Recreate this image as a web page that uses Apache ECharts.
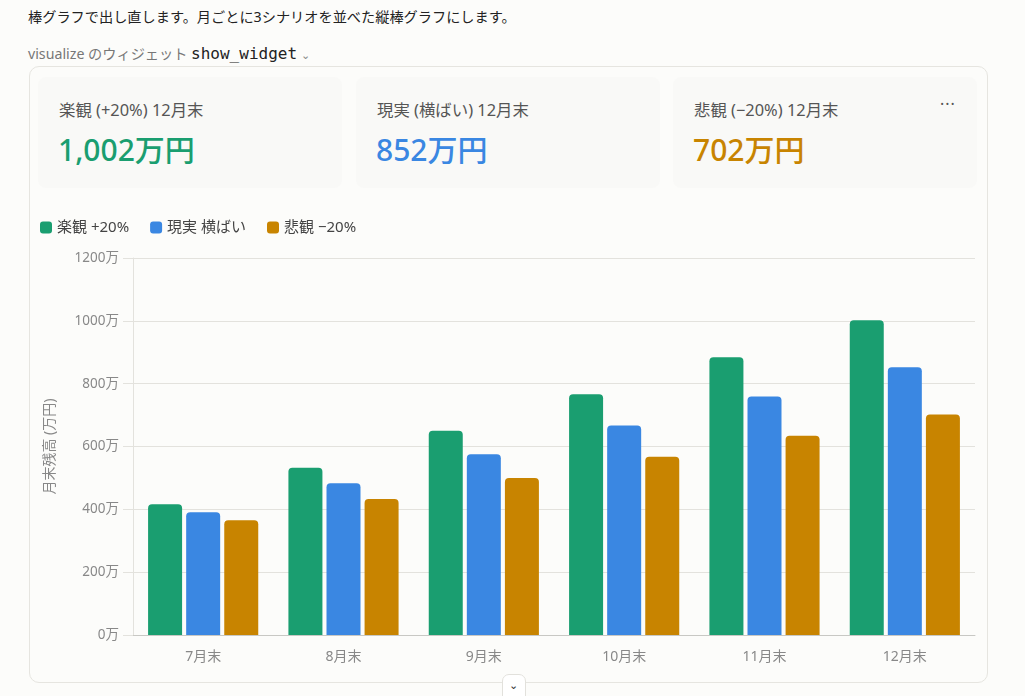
<!DOCTYPE html>
<html><head><meta charset="utf-8">
<script src="https://cdn.jsdelivr.net/npm/echarts@6/dist/echarts.min.js"></script>
<style>
html,body{margin:0;padding:0;background:#fcfcfa;width:1025px;height:696px;overflow:hidden;font-family:"Noto Sans","Noto Sans CJK JP",sans-serif;}
.t{position:absolute;white-space:nowrap;}
#head{left:28px;top:6px;font-size:14.2px;color:#222;}
#sub{left:28px;top:43px;font-size:14.2px;color:#777;}
#sub code{font-family:"DejaVu Sans Mono",monospace;color:#222;font-size:16px;}
#outer{position:absolute;left:29px;top:66px;width:957px;height:615px;border:1px solid #e6e5e0;border-radius:10px;background:#fcfcfa;}
.card{position:absolute;top:77px;width:304px;height:111px;background:#f9f9f7;border-radius:8px;}
.lab{position:absolute;left:21px;top:20px;font-size:16.4px;color:#555;}
.val{position:absolute;left:20px;top:49px;font-size:30px;font-weight:500;}
#dots{left:940px;top:93px;font-size:16px;color:#555;letter-spacing:1px;}
#chart{position:absolute;left:29px;top:195px;width:958px;height:487px;}
#btn{position:absolute;left:502px;top:674px;width:22px;height:30px;border:1px solid #e2e1dc;border-radius:7px;background:#fff;}
#btn span{position:absolute;left:6px;top:2px;font-size:11px;color:#333;}
</style></head>
<body>
<div class="t" id="head">棒グラフで出し直します。月ごとに3シナリオを並べた縦棒グラフにします。</div>
<div class="t" id="sub">visualize のウィジェット <code>show_widget</code> <span style="font-size:11px;color:#888">⌄</span></div>
<div id="outer"></div>
<div class="card" style="left:38px"><div class="t lab" id="l0"></div><div class="t val" id="v0"></div></div>
<div class="card" style="left:356px"><div class="t lab" id="l1"></div><div class="t val" id="v1"></div></div>
<div class="card" style="left:673px"><div class="t lab" id="l2"></div><div class="t val" id="v2"></div></div>
<div class="t" id="dots">···</div>
<div id="chart"></div>
<div id="btn"><span>⌄</span></div>
<script>
const categories = ["7月末","8月末","9月末","10月末","11月末","12月末"];
const seriesNames = ["楽観 +20%","現実 横ばい","悲観 −20%"];
const optimistic = [416, 532, 650, 766, 884, 1002];
const realistic = [391, 483, 575, 667, 759, 852];
const pessimistic = [365, 433, 500, 567, 634, 702];
const colors = ["#1a9e70","#3a87e2","#c88400"];
const cardLabels = ["楽観 (+20%) 12月末","現実 (横ばい) 12月末","悲観 (−20%) 12月末"];
const cardValues = ["1,002万円","852万円","702万円"];
const yTicks = {min:0, max:1200, interval:200};

for (let i=0;i<3;i++){
  document.getElementById('l'+i).textContent = cardLabels[i];
  const v = document.getElementById('v'+i);
  v.textContent = cardValues[i];
  v.style.color = colors[i];
}

const chart = echarts.init(document.getElementById('chart'), null, {renderer:'canvas'});
const font = '"Noto Sans","Noto Sans CJK JP",sans-serif';
const data = [optimistic, realistic, pessimistic];
chart.setOption({
  animation:false,
  textStyle:{fontFamily:font},
  legend:{
    left:11, top:25, padding:0, itemWidth:12, itemHeight:12, itemGap:21, icon:'roundRect',
    textStyle:{fontSize:15,color:'#444',fontFamily:font},
    data:seriesNames
  },
  grid:{left:104, right:12, top:63, bottom:47},
  xAxis:{
    type:'category', data:categories,
    axisLine:{lineStyle:{color:'#c8c8c4'}},
    axisTick:{show:false},
    axisLabel:{color:'#888',fontSize:14,margin:15,fontFamily:font}
  },
  yAxis:{
    type:'value', min:yTicks.min, max:yTicks.max, interval:yTicks.interval,
    name:'月末残高 (万円)', nameLocation:'middle', nameGap:76, nameRotate:90,
    nameTextStyle:{color:'#888',fontSize:14,fontFamily:font},
    axisLine:{show:true,lineStyle:{color:'#e3e2dd'}},
    axisTick:{show:true,length:10,lineStyle:{color:'#e3e2dd'}},
    splitLine:{lineStyle:{color:'#e3e2dd'}},
    axisLabel:{color:'#888',fontSize:13.5,margin:14,fontFamily:font,formatter:v=>v+'万'}
  },
  series: seriesNames.map((n,i)=>({
    name:n, type:'bar', data:data[i], barWidth:34, barGap:'12%',
    itemStyle:{color:colors[i], borderRadius:[4,4,0,0]}
  }))
});
</script>
</body></html>
